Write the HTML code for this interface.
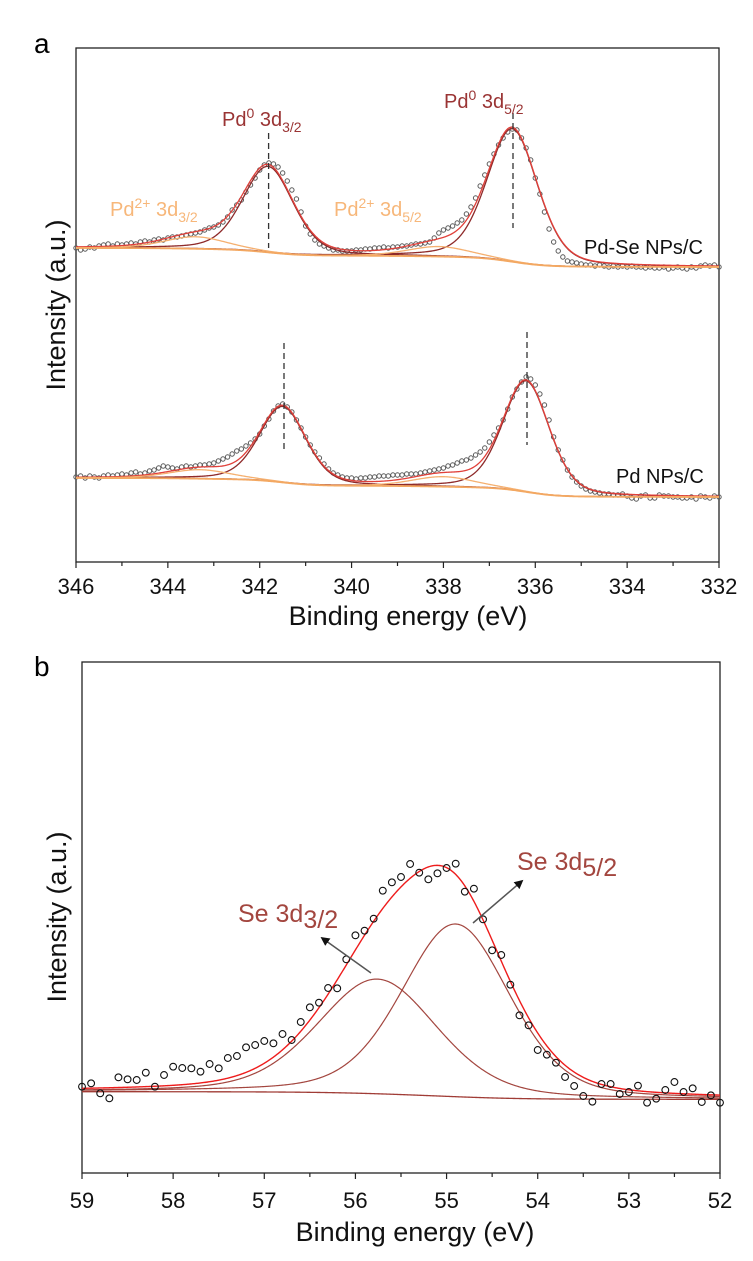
<!DOCTYPE html>
<html><head><meta charset="utf-8">
<style>
html,body{margin:0;padding:0;background:#fff;}
svg{display:block;font-family:"Liberation Sans",Arial,sans-serif;}
</style></head>
<body>
<svg id="fig" width="753" height="1261" viewBox="0 0 753 1261" xmlns="http://www.w3.org/2000/svg">
<defs>
<marker id="ah" viewBox="0 0 10 10" refX="8" refY="5" markerWidth="6" markerHeight="6" orient="auto"><path d="M0,0 L10,5 L0,10 z" fill="#111"/></marker>
</defs>
<text x="34" y="53" font-size="28">a</text>
<text x="34" y="676" font-size="28">b</text>
<g id="pa"></g>
<g id="pb"></g>
</svg>
<script>
// ---------- Panel a data ----------
const aStartE = 346, aStepE = -0.1;
const pdSeValues = [314,312,313,315,314,316,317,318,316,318,317,318,319,318,320,321,320,322,323,322,324,325,325,326,327,328,329,330,332,334,335,337,340,345,352,357,362,370,377,384,392,397,399,398,395,389,381,372,363,350,336,328,322,318,316,314,312,312,311,311,311,312,312,313,313,314,314,315,314,315,315,316,316,317,318,318,319,320,324,329,332,334,336,339,342,348,355,364,376,387,398,408,417,424,430,433,432,424,414,402,384,368,350,333,320,311,305,301,300,299,298,297,297,296,297,296,295,296,295,296,295,296,295,295,294,295,294,294,295,293,294,295,294,293,295,294,296,297,296,297,295];
const pdValues = [85,86,84,86,85,84,86,87,86,87,88,87,89,90,88,89,91,92,94,96,95,94,93,95,96,95,96,97,97,98,99,101,103,105,108,111,113,116,119,123,128,136,143,151,156,158,155,150,142,134,125,117,110,104,98,93,89,87,85,84,84,83,84,84,85,85,86,86,86,87,87,87,88,88,88,89,90,91,92,93,94,96,97,99,101,102,104,107,110,114,120,127,134,142,153,165,173,180,185,183,177,168,157,142,125,112,102,92,85,80,76,73,71,70,69,68,68,67,67,68,66,64,63,66,67,64,64,67,66,66,65,65,64,64,65,63,66,65,64,66,65];
const aTicks = [346,344,342,340,338,336,334,332];
const pdSeCenters = [341.82,336.5,343.4,338.1];
const pdSeAmps = [86,133,12,10];
const pdSeFwhm = [1.3,1.3,1.6,1.6];
const pdSeBg = [314,295];
const pdCenters = [341.5,336.2,343.3,338.0];
const pdAmps = [76,111,9,10];
const pdFwhm = [1.2,1.2,1.6,1.6];
const pdBg = [84,65];
// ---------- Panel b data ----------
const bStartE = 59, bStepE = -0.1;
const seValues = [259,269,239,224,287,281,279,301,259,294,319,315,314,304,327,314,345,351,377,384,396,389,417,399,453,497,511,555,554,641,713,727,763,847,872,888,927,901,881,899,915,928,844,853,761,668,654,565,473,443,369,355,331,288,261,231,214,267,267,237,243,262,211,223,249,273,243,254,213,233,211];
const bTicks = [59,58,57,56,55,54,53,52];
const seCenters = [55.76,54.9];
const seAmps = [344,518];
const seFwhm = [1.55,1.4];
const seBg = [244,221];

const NS = "http://www.w3.org/2000/svg";
function el(tag, attrs, parent){const e=document.createElementNS(NS,tag);for(const k in attrs)e.setAttribute(k,attrs[k]);parent.appendChild(e);return e;}
function pv(E,c,a,w){const s=w/2.3548;const g=Math.exp(-(E-c)*(E-c)/(2*s*s));const l=1/(1+Math.pow((E-c)/(w/2),2));return a*(0.7*g+0.3*l);}
function fitCurves(centers,amps,fwhm,bg,Ehi,Elo){
  const N=700, Es=[]; for(let i=0;i<=N;i++)Es.push(Ehi-(Ehi-Elo)*i/N);
  const comps=centers.map((c,k)=>Es.map(E=>pv(E,c,amps[k],fwhm[k])));
  const tot=Es.map((E,i)=>comps.reduce((s,cv)=>s+cv[i],0));
  const cum=new Array(N+1).fill(0);
  for(let i=N-1;i>=0;i--)cum[i]=cum[i+1]+tot[i];
  const B=Es.map((E,i)=>bg[1]+(bg[0]-bg[1])*cum[i]/cum[0]);
  return {Es,comps,tot,B};
}
function pathFrom(xs,ys){return xs.map((x,i)=>(i?'L':'M')+x.toFixed(2)+','+ys[i].toFixed(2)).join(' ');}

// ---------- Panel a ----------
(function(){
  const g=document.getElementById('pa');
  const L=76,R=719,T=48,B=562;
  const x=E=>L+(346-E)/(346-332)*(R-L);
  const y=v=>B-v/514*(B-T);
  const frame=el('rect',{x:L,y:T,width:R-L,height:B-T,fill:'none',stroke:'#222','stroke-width':1.3},g);
  
  
  for(let E=346;E>=332;E-=1){
    const t=el('line',{x1:x(E),x2:x(E),y1:B,y2:B+(E%2===0?6:4),stroke:'#222','stroke-width':1.2},g);
    
    
  }
  aTicks.forEach(v=>{
    const t=el('text',{x:x(v),y:594,'font-size':22,'text-anchor':'middle',fill:'#111'},g);
    t.textContent=v;
    
    
  });
  const xt=el('text',{x:408,y:625,'font-size':27,'text-anchor':'middle',fill:'#111'},g);
  xt.textContent='Binding energy (eV)';
  
  
  const yt=el('text',{x:0,y:0,'font-size':27,'text-anchor':'middle',fill:'#111',transform:'translate(65,305) rotate(-90)'},g);
  yt.textContent='Intensity (a.u.)';
  
  

  function spectrum(values,centers,amps,fwhm,bg,name){
    const f=fitCurves(centers,amps,fwhm,bg,346,332);
    const xs=f.Es.map(x);
    const sg=el('g',{},g);
    
    
    values.forEach((v,i)=>{
      const c=el('circle',{cx:x(aStartE+aStepE*i),cy:y(v),r:2.2,fill:'none',stroke:'#5a5a5a','stroke-width':1},sg);
      
      
    });
    [0,1].forEach(k=>{
      const p=el('path',{d:pathFrom(xs,f.comps[k].map((v,i)=>y(v+f.B[i]))),fill:'none',stroke:'#8e2a2a','stroke-width':1.3},sg);
      
      
    });
    const env=el('path',{d:pathFrom(xs,f.tot.map((v,i)=>y(v+f.B[i]))),fill:'none',stroke:'#e0403a','stroke-width':1.3},sg);
    
    
    [2,3].forEach(k=>{
      const p=el('path',{d:pathFrom(xs,f.comps[k].map((v,i)=>y(v+f.B[i]))),fill:'none',stroke:'#f5b070','stroke-width':1.3},sg);
      
      
    });
    const bgl=el('path',{d:pathFrom(xs,f.B.map(y)),fill:'none',stroke:'#f3a862','stroke-width':1.8},sg);
    
    
  }
  spectrum(pdSeValues,pdSeCenters,pdSeAmps,pdSeFwhm,pdSeBg,'pd-se');
  spectrum(pdValues,pdCenters,pdAmps,pdFwhm,pdBg,'pd');
})();
</script>
<script>
(function(){
  const svg=document.getElementById('fig');
  const g=el('g',{},svg);
  
  
  [[268.6,133,248],[513,113,228],[284,343,450],[527,332,445]].forEach(d=>{
    const l=el('line',{x1:d[0],x2:d[0],y1:d[1],y2:d[2],stroke:'#333','stroke-width':1.3,'stroke-dasharray':'6,4'},g);
    
    
  });
  function label(xp,yp,html,color,size,name){
    const t=el('text',{x:xp,y:yp,'font-size':size,fill:color},g);
    t.innerHTML=html;
    
    
  }
  label(222,126,'Pd<tspan font-size="14" dy="-8">0</tspan><tspan dy="8"> 3d</tspan><tspan font-size="14" dy="6">3/2</tspan>','#9a3434',20,'pd0-3d32-label');
  label(444,108,'Pd<tspan font-size="14" dy="-8">0</tspan><tspan dy="8"> 3d</tspan><tspan font-size="14" dy="6">5/2</tspan>','#9a3434',20,'pd0-3d52-label');
  label(110,216,'Pd<tspan font-size="14" dy="-8">2+</tspan><tspan dy="8"> 3d</tspan><tspan font-size="14" dy="6">3/2</tspan>','#f7b77a',20,'pd2-3d32-label');
  label(334,216,'Pd<tspan font-size="14" dy="-8">2+</tspan><tspan dy="8"> 3d</tspan><tspan font-size="14" dy="6">5/2</tspan>','#f7b77a',20,'pd2-3d52-label');
  label(584,254,'Pd-Se NPs/C','#111',20,'pd-se-sample-label');
  label(616,483,'Pd NPs/C','#111',20,'pd-sample-label');
})();
</script>
<script>
// ---------- Panel b ----------
(function(){
  const g=document.getElementById('pb');
  const L=82,R=720,T=662,B=1173;
  const x=E=>L+(59-E)/(59-52)*(R-L);
  const y=v=>B-v/1533*(B-T);
  const frame=el('rect',{x:L,y:T,width:R-L,height:B-T,fill:'none',stroke:'#222','stroke-width':1.3},g);
  
  
  for(let k=0;k<=14;k++){
    const E=59-k*0.5;
    const t=el('line',{x1:x(E),x2:x(E),y1:B,y2:B+(k%2===0?6:4),stroke:'#222','stroke-width':1.2},g);
    
    
  }
  bTicks.forEach(v=>{
    const t=el('text',{x:x(v),y:1208,'font-size':22,'text-anchor':'middle',fill:'#111'},g);
    t.textContent=v;
    
    
  });
  const xt=el('text',{x:415,y:1241,'font-size':27,'text-anchor':'middle',fill:'#111'},g);
  xt.textContent='Binding energy (eV)';
  
  
  const yt=el('text',{x:0,y:0,'font-size':27,'text-anchor':'middle',fill:'#111',transform:'translate(66,917) rotate(-90)'},g);
  yt.textContent='Intensity (a.u.)';
  
  

  const f=fitCurves(seCenters,seAmps,seFwhm,seBg,59,52);
  const xs=f.Es.map(x);
  const bgl=el('path',{d:pathFrom(xs,f.B.map(y)),fill:'none',stroke:'#a03c36','stroke-width':1.3},g);
  
  
  f.comps.forEach((cv,k)=>{
    const p=el('path',{d:pathFrom(xs,cv.map((v,i)=>y(v+f.B[i]))),fill:'none',stroke:'#a3463f','stroke-width':1.2},g);
    
    
  });
  const env=el('path',{d:pathFrom(xs,f.tot.map((v,i)=>y(v+f.B[i]))),fill:'none',stroke:'#ee1c1c','stroke-width':1.4},g);
  
  
  seValues.forEach((v,i)=>{
    const c=el('circle',{cx:x(bStartE+bStepE*i),cy:y(v),r:3.4,fill:'none',stroke:'#111','stroke-width':1.1},g);
    
    
  });
  const a1=el('line',{x1:371,y1:973,x2:322,y2:938,stroke:'#555','stroke-width':1.5,'marker-end':'url(#ah)'},g);
  
  
  const a2=el('line',{x1:473,y1:923,x2:522,y2:881,stroke:'#555','stroke-width':1.5,'marker-end':'url(#ah)'},g);
  
  
  const t1=el('text',{x:238,y:922,'font-size':25,fill:'#a3463f'},g);
  t1.innerHTML='Se 3d<tspan font-size="25" dy="6">3/2</tspan>';
  
  
  const t2=el('text',{x:517,y:870,'font-size':25,fill:'#a3463f'},g);
  t2.innerHTML='Se 3d<tspan font-size="25" dy="6">5/2</tspan>';
  
  
})();
</script>
</body></html>
